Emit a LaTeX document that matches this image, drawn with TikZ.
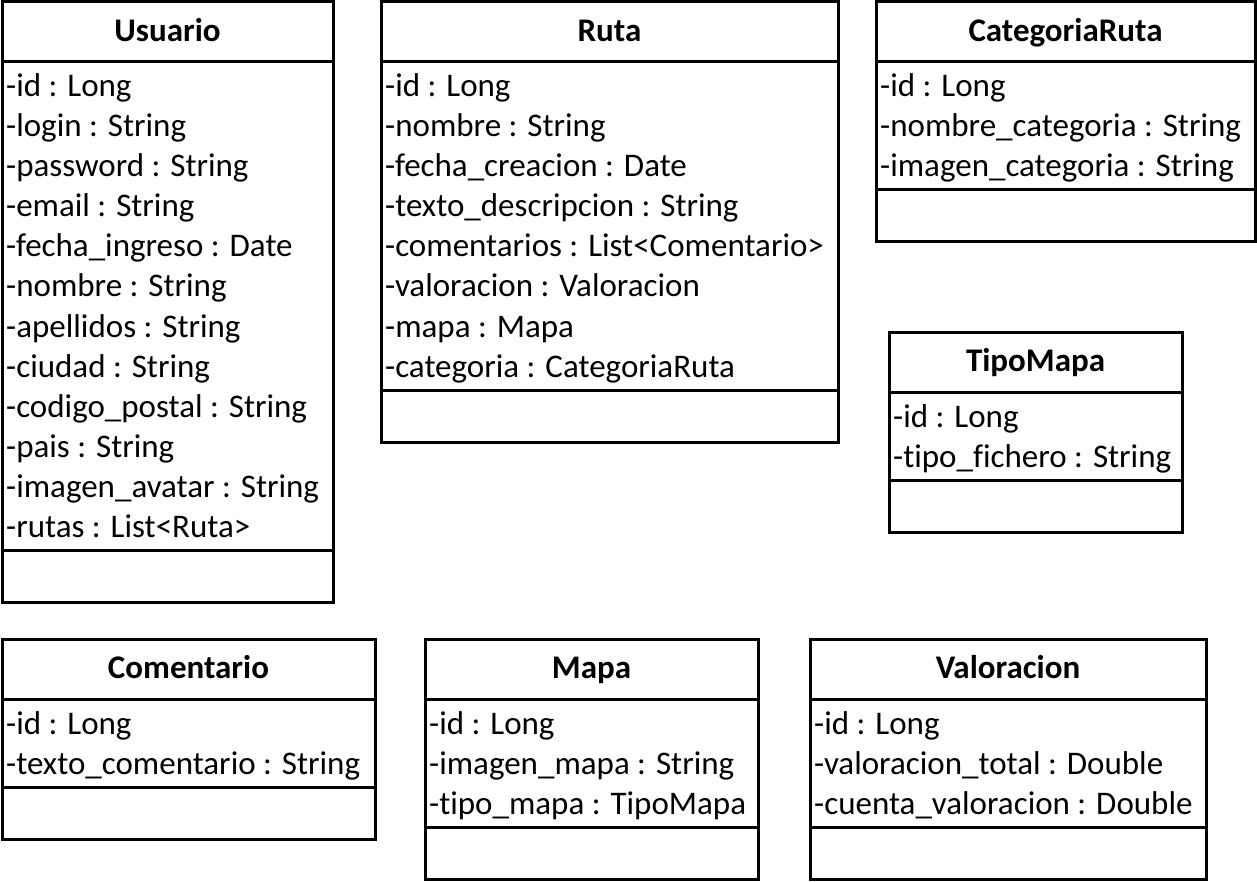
\documentclass[tikz,border=0pt]{standalone}
\usepackage{fontspec}
\setmainfont[Ligatures=NoCommon]{Carlito}
\tikzset{
  x=1pt, y=-1pt,
  boxline/.style={line width=3pt, draw=black},
  titletext/.style={font=\bfseries\fontsize{33}{38}\selectfont, anchor=base, inner sep=0pt},
  attrtext/.style={font=\fontsize{33}{38}\selectfont, anchor=base west, inner sep=0pt},
}
% #1 id, #2 x1, #3 top, #4 x2, #5 title, #6 attrs, #7 number of attrs
\newcommand{\umlclass}[7]{%
  \pgfmathsetmacro{\ysepA}{#3+60}%
  \pgfmathsetmacro{\ysepB}{#3+60+40*#7+8}%
  \pgfmathsetmacro{\ybot}{\ysepB+52}%
  \coordinate (#1-nw) at (#2,#3);
  \coordinate (#1-se) at (#4,\ybot);
  \coordinate (#1-l1) at (#2,\ysepA);
  \coordinate (#1-r1) at (#4,\ysepA);
  \coordinate (#1-l2) at (#2,\ysepB);
  \coordinate (#1-r2) at (#4,\ysepB);
  \draw[boxline] (#1-nw) rectangle (#1-se);
  \draw[boxline] (#1-l1) -- (#1-r1);
  \draw[boxline] (#1-l2) -- (#1-r2);
  \node[titletext] (#1-title) at ({(#2+#4)/2},{#3+39.5}) {#5};
  \foreach \a [count=\i from 0] in {#6} {
    \node[attrtext] (#1-a\i) at ({#2+4},{#3+95+40*\i}) {\a};
  }%
}
\begin{document}
\begin{tikzpicture}
\useasboundingbox (0,0) rectangle (1257,882);
\fill[white] (0,0) rectangle (1257,882);
\umlclass{usuario}{2}{2}{333}{Usuario}{-id : Long,-login : String,-password : String,-email : String,-fecha\_ingreso : Date,-nombre : String,-apellidos : String,-ciudad : String,-codigo\_postal : String,-pais : String,-imagen\_avatar : String,-rutas : List<Ruta>}{12}
\umlclass{ruta}{381}{2}{838}{Ruta}{-id : Long,-nombre : String,-fecha\_creacion : Date,-texto\_descripcion : String,-comentarios : List<Comentario>,-valoracion : Valoracion,-mapa : Mapa,-categoria : CategoriaRuta}{8}
\umlclass{categoria}{876}{2}{1255}{CategoriaRuta}{-id : Long,-nombre\_categoria : String,-imagen\_categoria : String}{3}
\umlclass{tipomapa}{889}{332}{1182}{TipoMapa}{-id : Long,-tipo\_fichero : String}{2}
\umlclass{comentario}{2}{639}{375}{Comentario}{-id : Long,-texto\_comentario : String}{2}
\umlclass{mapa}{425}{639}{758}{Mapa}{-id : Long,-imagen\_mapa : String,-tipo\_mapa : TipoMapa}{3}
\umlclass{valoracion}{810}{639}{1206}{Valoracion}{-id : Long,-valoracion\_total : Double,-cuenta\_valoracion : Double}{3}
\end{tikzpicture}
\end{document}
